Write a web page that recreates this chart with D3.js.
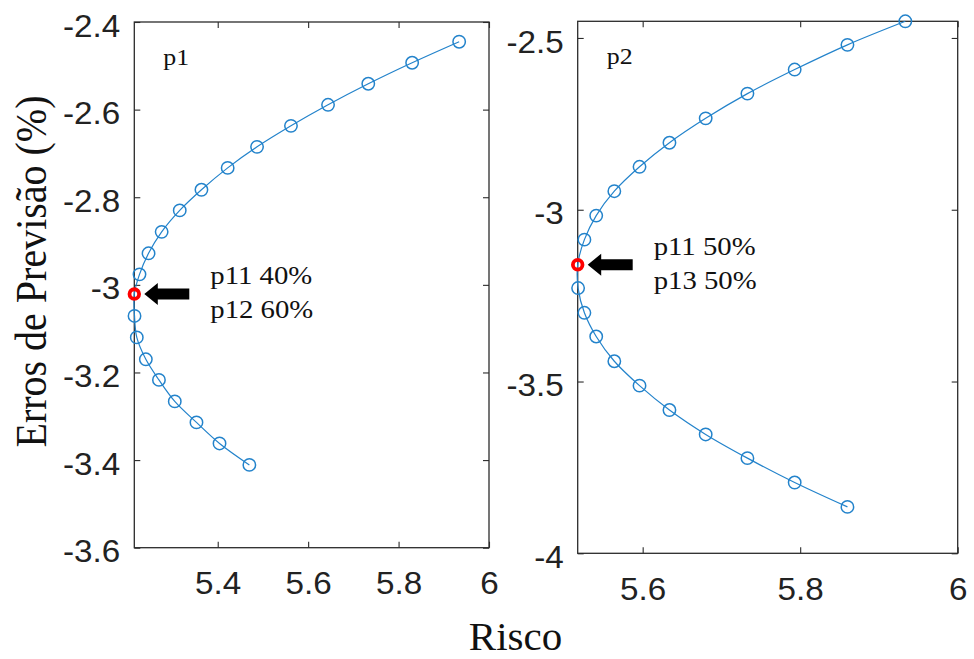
<!DOCTYPE html>
<html>
<head>
<meta charset="utf-8">
<script src="https://cdn.jsdelivr.net/npm/d3@7"></script>
<style>
  html, body { margin: 0; padding: 0; background: #fff; }
  svg { display: block; }
</style>
</head>
<body>
<svg id="chart" width="974" height="659"></svg>
<script>
// Efficient frontier of portfolio p1 (Risco vs. Erros de Previsão)
const riskP1 = [5.934, 5.830, 5.733, 5.644, 5.562, 5.487, 5.422, 5.364, 5.316, 5.276, 5.247,
                5.227, 5.2155, 5.216, 5.221, 5.241, 5.270, 5.305, 5.353, 5.404, 5.470];
const errP1  = [-2.445, -2.493, -2.541, -2.589, -2.637, -2.685, -2.733, -2.783, -2.830, -2.879, -2.928,
                -2.976, -3.021, -3.071, -3.120, -3.170, -3.217, -3.266, -3.314, -3.362, -3.411];
const bestP1 = 12;
const noteP1 = ["p11 40%", "p12 60%"];

// Efficient frontier of portfolio p2
const riskP2 = [5.9335, 5.860, 5.793, 5.733, 5.680, 5.634, 5.596, 5.564, 5.541, 5.526, 5.5175,
                5.518, 5.526, 5.541, 5.564, 5.596, 5.634, 5.680, 5.733, 5.793, 5.860];
const errP2  = [-2.4515, -2.520, -2.592, -2.662, -2.734, -2.805, -2.875, -2.946, -3.017, -3.087, -3.160,
                -3.228, -3.300, -3.369, -3.441, -3.512, -3.583, -3.654, -3.723, -3.794, -3.865];
const bestP2 = 10;
const noteP2 = ["p11 50%", "p13 50%"];

// Axis ticks
const xTicksP1 = [5.4, 5.6, 5.8, 6];
const yTicksP1 = [-3.6, -3.4, -3.2, -3, -2.8, -2.6, -2.4];
const xTicksP2 = [5.6, 5.8, 6];
const yTicksP2 = [-4, -3.5, -3, -2.5];

const xLabel = "Risco";
const yLabel = "Erros de Previsão (%)";

const svg = d3.select("#chart");
svg.append("rect").attr("width", 974).attr("height", 659).attr("fill", "#fff");

const AXIS = "#2b2b2b";
const BLUE = "#2383cb";
const SANS = "'Liberation Sans', Arial, sans-serif";
const SERIF = "'Liberation Serif', 'Times New Roman', serif";
const SX = 1.09; // horizontal stretch applied to tick-label glyphs

function stretchTexts(sel, sx) {
  sel.selectAll("text").each(function () {
    const t = d3.select(this);
    const x = +t.attr("x") || 0;
    t.attr("x", x / sx).attr("transform", `scale(${sx},1)`);
  });
}

function panel(cfg) {
  const { risk, err, best, note, name, xDomain, yDomain, box, xTicks, yTicks } = cfg;
  const x = d3.scaleLinear().domain(xDomain).range([box.left, box.right]);
  const y = d3.scaleLinear().domain(yDomain).range([box.bottom, box.top]);
  const g = svg.append("g");
  const fmt = d => String(d); // plain hyphen-minus, e.g. "-2.4"

  // inward ticks on all four sides
  const tick = 6;
  const left = g.append("g").attr("transform", `translate(${box.left},0)`)
    .call(d3.axisLeft(y).tickValues(yTicks).tickFormat(fmt).tickSizeInner(-tick).tickSizeOuter(0).tickPadding(14));
  const bottom = g.append("g").attr("transform", `translate(0,${box.bottom})`)
    .call(d3.axisBottom(x).tickValues(xTicks).tickFormat(fmt).tickSizeInner(-tick).tickSizeOuter(0).tickPadding(25));
  g.append("g").attr("transform", `translate(${box.right},0)`)
    .call(d3.axisRight(y).tickValues(yTicks).tickFormat("").tickSizeInner(-tick).tickSizeOuter(0));
  g.append("g").attr("transform", `translate(0,${box.top})`)
    .call(d3.axisTop(x).tickValues(xTicks).tickFormat("").tickSizeInner(-tick).tickSizeOuter(0));

  g.selectAll(".domain").remove();
  g.selectAll(".tick line").attr("stroke", AXIS).attr("stroke-width", 1.1);
  g.selectAll(".tick text").attr("font-family", SANS).attr("font-size", 30.5).attr("fill", "#222");
  left.selectAll(".tick text").attr("dy", "0.46em");
  stretchTexts(left, SX);
  stretchTexts(bottom, SX);

  g.append("rect")
    .attr("x", box.left).attr("y", box.top)
    .attr("width", box.right - box.left).attr("height", box.bottom - box.top)
    .attr("fill", "none").attr("stroke", AXIS).attr("stroke-width", 1.3);

  const pts = risk.map((r, i) => ({ r, e: err[i], i }));

  g.append("path").datum(pts)
    .attr("d", d3.line().x(d => x(d.r)).y(d => y(d.e)).curve(d3.curveCatmullRom.alpha(0.5)))
    .attr("fill", "none").attr("stroke", BLUE).attr("stroke-width", 1.2);

  g.selectAll("circle.pt").data(pts.filter(d => d.i !== best)).join("circle")
    .attr("class", "pt")
    .attr("cx", d => x(d.r)).attr("cy", d => y(d.e)).attr("r", 6.2)
    .attr("fill", "none").attr("stroke", BLUE).attr("stroke-width", 1.5);

  // highlighted minimum-risk portfolio
  const bx = x(risk[best]), by = y(err[best]);
  g.append("circle").attr("cx", bx).attr("cy", by).attr("r", 4.8)
    .attr("fill", "none").attr("stroke", "#ff0000").attr("stroke-width", 3.8);

  // block arrow pointing at the highlighted point
  const tip = bx + 10, head = 13.5, len = 45, hh = 11, sh = 5.5;
  g.append("path")
    .attr("d", `M${tip},${by} L${tip + head},${by - hh} L${tip + head},${by - sh} L${tip + len},${by - sh}
               L${tip + len},${by + sh} L${tip + head},${by + sh} L${tip + head},${by + hh} Z`)
    .attr("fill", "#000");

  // composition of the highlighted portfolio
  const tx = bx + 76;
  note.forEach((s, k) => {
    g.append("text")
      .attr("x", tx / 1.15).attr("y", by - 10 + k * 34)
      .attr("transform", "scale(1.15,1)")
      .attr("font-family", SERIF).attr("font-size", 25).attr("fill", "#111")
      .text(s);
  });

  // panel name
  g.append("text")
    .attr("x", (box.left + 29) / 1.08).attr("y", box.top + 43)
    .attr("transform", "scale(1.08,1)")
    .attr("font-family", SERIF).attr("font-size", 24).attr("fill", "#111")
    .text(name);
}

panel({
  risk: riskP1, err: errP1, best: bestP1, note: noteP1, name: "p1",
  xDomain: [5.2155, 6], yDomain: [-3.6, -2.4],
  box: { left: 134.3, right: 489, top: 22, bottom: 547.7 },
  xTicks: xTicksP1, yTicks: yTicksP1
});

panel({
  risk: riskP2, err: errP2, best: bestP2, note: noteP2, name: "p2",
  xDomain: [5.5175, 6], yDomain: [-4, -2.4515],
  box: { left: 577.7, right: 957.7, top: 21.3, bottom: 553.3 },
  xTicks: xTicksP2, yTicks: yTicksP2
});

// shared axis titles
svg.append("text")
  .attr("transform", "translate(46,271.5) scale(1.1,1) rotate(-90)")
  .attr("text-anchor", "middle")
  .attr("font-family", SERIF).attr("font-size", 40).attr("fill", "#111")
  .text(yLabel);

svg.append("text")
  .attr("x", 515.5).attr("y", 650)
  .attr("text-anchor", "middle")
  .attr("font-family", SERIF).attr("font-size", 41).attr("fill", "#111")
  .text(xLabel);
</script>
</body>
</html>
